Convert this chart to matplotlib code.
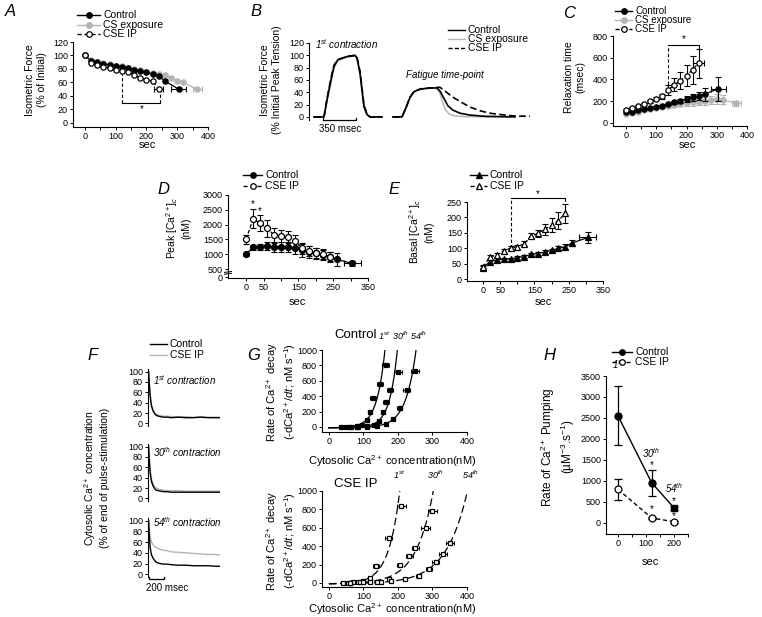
import numpy as np
import matplotlib
matplotlib.use('Agg')
import matplotlib.pyplot as plt
from matplotlib.lines import Line2D

plt.rcParams['font.family'] = ['Liberation Sans', 'DejaVu Sans']
plt.rcParams['mathtext.fontset'] = 'custom'
plt.rcParams['mathtext.rm'] = 'Liberation Sans'
plt.rcParams['mathtext.it'] = 'Liberation Sans:italic'

W, H = 762, 617
GREY = '#b4b4b4'

# ---- A : isometric force (% of initial) vs sec
a_x_ctrl = [0, 20, 40, 60, 80, 100, 120, 140, 160, 180, 200, 220, 240, 260, 305]
a_y_ctrl = [100, 92, 90, 88, 86, 84, 83, 81, 79, 77, 75, 72, 70, 62, 50]
a_xe_ctrl = [0, 0, 0, 0, 0, 0, 0, 0, 0, 0, 0, 0, 0, 0, 25]
a_x_cs = [0, 20, 40, 60, 80, 100, 120, 140, 160, 180, 200, 220, 240, 260, 280, 300, 320, 365]
a_y_cs = [100, 93, 91, 89, 87, 85, 84, 82, 80, 78, 76, 74, 73, 71, 67, 62, 60, 50]
a_xe_cs = [0, 0, 0, 0, 0, 0, 0, 0, 0, 0, 0, 0, 0, 0, 0, 0, 0, 15]
a_x_cse = [0, 20, 40, 60, 80, 100, 120, 140, 160, 180, 200, 220, 240]
a_y_cse = [100, 89, 86, 83, 81, 79, 77, 75, 71, 67, 64, 62, 50]
a_xe_cse = [0, 0, 0, 0, 0, 0, 0, 0, 0, 0, 0, 0, 14]

# ---- B : force traces (ms, % initial peak)
b_t1 = [53, 159, 191, 233, 265, 307, 403, 488, 509, 541, 562, 583, 615, 647, 774]
b_ctrl1 = [0, 0, 28, 60, 82, 93, 98, 100, 96, 71, 44, 17, 4, 0, 0]
b_cs1 = [0, 0, 25, 55, 80, 92, 97, 99, 95, 68, 40, 15, 3, 0, 0]
b_cse1 = [0, 0, 30, 63, 84, 93, 98, 100, 97, 74, 47, 19, 5, 0, 0]
b_t2_ctrl = [890, 986, 1028, 1071, 1113, 1177, 1283, 1357, 1389, 1431, 1473, 1526, 1601, 1707, 1866, 2025, 2184]
b_ctrl2 = [0, 0, 15, 32, 41, 45, 47, 47, 42, 30, 18, 11, 6, 3, 1, 0.5, 0]
b_t2_cs = [890, 986, 1028, 1071, 1113, 1177, 1283, 1357, 1389, 1420, 1452, 1494, 1547, 1654, 1919, 2130]
b_cs2 = [0, 0, 14, 31, 41, 46, 47, 46, 38, 22, 10, 4, 1.5, 0.5, 0, 0]
b_t2_cse = [890, 986, 1028, 1071, 1113, 1177, 1283, 1357, 1389, 1442, 1516, 1601, 1707, 1813, 1919, 2078, 2184, 2343]
b_cse2 = [0, 0, 15, 32, 41, 45, 47, 48, 48, 42, 33, 25, 16, 10, 6, 3, 1.5, 1]

# ---- C : relaxation time (msec)
c_x_cse = [0, 20, 40, 60, 80, 100, 120, 140, 160, 180, 200, 220, 240]
c_y_cse = [120, 138, 155, 175, 200, 222, 245, 305, 350, 390, 435, 490, 550]
c_ye_cse = [10, 10, 10, 10, 12, 15, 20, 45, 60, 75, 95, 130, 135]
c_xe_cse = [0, 0, 0, 0, 0, 0, 0, 0, 0, 0, 0, 0, 18]
c_x_ctrl = [0, 20, 40, 60, 80, 100, 120, 140, 160, 180, 200, 220, 240, 260, 305]
c_y_ctrl = [100, 105, 115, 125, 135, 150, 160, 175, 190, 205, 220, 235, 248, 265, 315]
c_ye_ctrl = [0, 0, 0, 0, 0, 0, 0, 10, 15, 20, 25, 30, 35, 60, 110]
c_xe_ctrl = [0, 0, 0, 0, 0, 0, 0, 0, 0, 0, 0, 0, 0, 0, 25]
c_x_cs = [0, 20, 40, 60, 80, 100, 120, 140, 160, 180, 200, 220, 240, 260, 280, 300, 320, 365]
c_y_cs = [85, 95, 105, 115, 125, 135, 145, 155, 165, 172, 180, 190, 195, 200, 210, 220, 215, 180]
c_ye_cs = [0, 0, 0, 0, 0, 0, 10, 15, 20, 20, 25, 30, 30, 35, 40, 45, 40, 20]
c_xe_cs = [0, 0, 0, 0, 0, 0, 0, 0, 0, 0, 0, 0, 0, 0, 0, 0, 0, 15]

# ---- D : peak [Ca2+]c (nM)
d_x_cse = [0, 20, 40, 60, 80, 100, 120, 140, 160, 180, 200, 220, 240]
d_y_cse = [1500, 2200, 2050, 1880, 1650, 1620, 1580, 1450, 1200, 1120, 1050, 1000, 920]
d_ye_cse = [150, 330, 280, 280, 250, 200, 200, 200, 180, 170, 160, 150, 150]
d_x_ctrl = [0, 20, 40, 60, 80, 100, 120, 140, 160, 180, 200, 220, 240, 260, 305]
d_y_ctrl = [1000, 1230, 1260, 1280, 1240, 1240, 1250, 1200, 1130, 1080, 1030, 990, 920, 830, 690]
d_ye_ctrl = [60, 80, 100, 120, 150, 170, 180, 200, 210, 200, 190, 180, 170, 230, 80]
d_xe_ctrl = [0, 0, 0, 0, 0, 0, 0, 0, 0, 0, 0, 0, 0, 0, 25]

# ---- E : basal [Ca2+]c (nM)
e_x_cse = [0, 20, 40, 60, 80, 100, 120, 140, 160, 180, 200, 220, 240]
e_y_cse = [40, 72, 78, 92, 100, 105, 115, 140, 148, 162, 175, 190, 213]
e_ye_cse = [5, 6, 6, 6, 6, 6, 8, 8, 12, 18, 22, 28, 30]
e_x_ctrl = [0, 20, 40, 60, 80, 100, 120, 140, 160, 180, 200, 220, 240, 260, 305]
e_y_ctrl = [37, 57, 62, 65, 65, 70, 73, 80, 83, 88, 93, 100, 105, 117, 135]
e_ye_ctrl = [5, 5, 5, 5, 5, 5, 5, 5, 5, 5, 6, 6, 8, 10, 18]
e_xe_ctrl = [0, 0, 0, 0, 0, 0, 0, 0, 0, 0, 0, 0, 0, 0, 25]

# ---- F : cytosolic Ca2+ decay traces (ms, % of end of pulse)
f_t = [0, 10, 20, 30, 40, 60, 80, 100, 130, 160, 200, 250, 300, 400, 500, 600, 700, 800, 900, 950]
f_ctrl_1 = [100, 75, 55, 42, 33, 24, 19, 16, 14, 13, 12, 12, 11, 12, 11, 11, 12, 11, 11, 11]
f_cse_1 = [100, 78, 58, 45, 36, 27, 21, 18, 16, 15, 14, 14, 13, 13, 13, 12, 13, 12, 12, 12]
f_ctrl_30 = [100, 72, 52, 40, 32, 24, 19, 16, 15, 14, 13, 13, 12, 12, 12, 12, 12, 12, 12, 12]
f_cse_30 = [100, 76, 57, 45, 37, 28, 23, 20, 18, 17, 16, 15, 15, 15, 14, 14, 14, 14, 14, 14]
f_ctrl_54 = [100, 70, 52, 42, 36, 30, 26, 23, 21, 20, 19, 19, 18, 17, 17, 16, 16, 16, 15, 15]
f_cse_54 = [100, 85, 72, 65, 60, 55, 52, 50, 48, 46, 45, 44, 42, 41, 40, 39, 38, 37, 37, 36]

# ---- G : rate of Ca2+ decay vs cytosolic Ca2+ (nM)
g_keys = ['1st', '30th', '54th']
g_ctrl_x = {'1st': [35, 50, 65, 80, 95, 110, 120, 128, 148, 165],
            '30th': [60, 85, 110, 130, 145, 157, 165, 177, 200],
            '54th': [80, 110, 140, 165, 185, 205, 226, 250]}
g_ctrl_y = {'1st': [0, 3, 5, 10, 30, 90, 200, 380, 560, 800],
            '30th': [0, 5, 10, 25, 80, 195, 325, 480, 720],
            '54th': [0, 5, 15, 35, 100, 250, 480, 730]}
g_ctrl_xe = {'1st': [0, 0, 0, 3, 4, 5, 6, 8, 10, 10],
             '30th': [0, 0, 3, 4, 5, 6, 8, 10, 12],
             '54th': [0, 0, 3, 4, 6, 8, 10, 12]}
g_cse_x = {'1st': [40, 55, 70, 85, 100, 118, 136, 173, 210],
           '30th': [60, 90, 120, 150, 175, 205, 233, 250, 280, 300],
           '54th': [60, 100, 140, 180, 220, 260, 290, 310, 330, 350]}
g_cse_y = {'1st': [0, 0, 5, 10, 20, 50, 180, 490, 840],
           '30th': [0, 5, 5, 15, 40, 200, 290, 380, 600, 780],
           '54th': [0, 5, 10, 20, 40, 80, 150, 230, 320, 430]}
g_cse_xe = {'1st': [0, 0, 0, 3, 4, 5, 8, 10, 12],
            '30th': [0, 0, 0, 3, 5, 8, 10, 10, 12, 12],
            '54th': [0, 0, 3, 4, 5, 8, 10, 10, 12, 12]}

# ---- H : rate of Ca2+ pumping
h_x = [0, 120, 200]
h_ctrl = [2550, 960, 360]
h_ctrl_e = [700, 310, 40]
h_cse = [800, 120, 30]
h_cse_e = [250, 30, 20]

fig = plt.figure(figsize=(W / 100, H / 100), dpi=100)


def box(x0, y0, x1, y1):
    return [x0 / W, 1 - y1 / H, (x1 - x0) / W, (y1 - y0) / H]


def ftext(x, y, s, **kw):
    kw.setdefault('fontsize', 7.5)
    fig.text(x / W, 1 - y / H, s, **kw)


def tidy(ax, left_only=False):
    for s in ['top', 'right']:
        ax.spines[s].set_visible(False)
    if left_only:
        ax.spines['bottom'].set_visible(False)
        ax.set_xticks([])
    for s in ['left', 'bottom']:
        ax.spines[s].set_linewidth(0.8)
    ax.tick_params(which='both', direction='out', length=2.5, width=0.7, labelsize=6.5, pad=1.2)
    ax.patch.set_alpha(0)


def legend_row(x0, x1, y, label, color, ls, marker=None, mfc='k', ms=4, fs=7.5):
    yy = 1 - y / H
    fig.add_artist(Line2D([x0 / W, x1 / W], [yy, yy], color=color, ls=ls, lw=1.0,
                          transform=fig.transFigure))
    if marker:
        fig.add_artist(Line2D([(x0 + x1) / 2 / W], [yy], marker=marker, ms=ms, mfc=mfc,
                              mec=color, mew=0.9, ls='none', transform=fig.transFigure))
    ftext(x1 + 3, y, label, va='center', ha='left', fontsize=fs)


def series(ax, x, y, color, mfc, ls, marker, yerr=None, xerr=None, ms=3.8, z=2, cap=2):
    x = np.asarray(x, float)
    y = np.asarray(y, float)
    ax.plot(x, y, color=color, ls=ls, lw=0.9, marker=marker, ms=ms, mfc=mfc, mec=color,
            mew=0.9, zorder=z + 0.5, clip_on=False)
    for err, key in ((yerr, 'yerr'), (xerr, 'xerr')):
        if err is None:
            continue
        err = np.asarray(err, float)
        m = err > 0
        if m.any():
            ax.errorbar(x[m], y[m], **{key: err[m]}, fmt='none', ecolor=color, elinewidth=0.8,
                        capsize=cap, capthick=0.8, zorder=z, clip_on=False)


def sec_ticks(ax, major, minor):
    ax.set_xticks(major)
    ax.set_xticks(minor, minor=True)


DASH = (0, (3, 2))

# ================= A
axA = fig.add_axes(box(73, 42, 208, 127))
tidy(axA)
axA.set_xlim(-39, 400)
axA.set_ylim(-6, 120)
series(axA, a_x_cs, a_y_cs, GREY, GREY, '-', 'o', xerr=a_xe_cs, z=2)
series(axA, a_x_ctrl, a_y_ctrl, 'k', 'k', '-', 'o', xerr=a_xe_ctrl, z=3)
series(axA, a_x_cse, a_y_cse, 'k', 'white', DASH, 'o', xerr=a_xe_cse, z=4)
sec_ticks(axA, [0, 100, 200, 300, 400], [50, 150, 250, 350])
axA.set_yticks(range(0, 121, 20))
axA.plot([120, 120], [76, 30], 'k', ls=(0, (3, 2)), lw=0.8)
axA.plot([120, 245], [30, 30], 'k-', lw=0.8)
axA.plot([245, 245], [30, 47], 'k', ls=(0, (3, 2)), lw=0.8)
axA.text(183, 20, '*', ha='center', va='center', fontsize=7)
ftext(147, 145, 'sec', ha='center', va='center', fontsize=8)
ftext(36, 80, 'Isometric Force\n(% of Initial)', rotation=90, ha='center', va='center',
      multialignment='center', linespacing=1.15)
legend_row(77, 100, 15, 'Control', 'k', '-', 'o', 'k')
legend_row(77, 100, 25, 'CS exposure', GREY, '-', 'o', GREY)
legend_row(77, 100, 34, 'CSE IP', 'k', DASH, 'o', 'white')
ftext(5, 12, 'A', fontsize=12, style='italic', va='center')

# ================= B
axB = fig.add_axes(box(309, 43, 530, 120))
tidy(axB, left_only=True)
axB.set_xlim(0, 2343)
axB.set_ylim(-5, 120)
axB.set_yticks(range(0, 121, 20))
axB.plot(b_t1, b_cs1, color=GREY, lw=1.1)
axB.plot(b_t1, b_ctrl1, color='k', lw=1.2)
axB.plot(b_t1, b_cse1, color='k', lw=1.2, ls=(0, (4, 2)))
axB.plot(b_t2_cs, b_cs2, color=GREY, lw=1.1)
axB.plot(b_t2_ctrl, b_ctrl2, color='k', lw=1.2)
axB.plot(b_t2_cse, b_cse2, color='k', lw=1.2, ls=(0, (4, 2)))
axB.plot([148, 148, 498, 498], [-2, -5, -5, -2], 'k-', lw=0.9, clip_on=False)
ftext(340, 129, '350 msec', ha='center', va='center', fontsize=7)
ftext(347, 44, '1$^{st}$ contraction', ha='center', va='center', fontsize=7, style='italic')
ftext(445, 75, 'Fatigue time-point', ha='center', va='center', fontsize=7, style='italic')
ftext(271, 80, 'Isometric Force\n(% Initial Peak Tension)', rotation=90, ha='center',
      va='center', multialignment='center', linespacing=1.15)
legend_row(448, 465, 30, 'Control', 'k', '-')
legend_row(448, 465, 39, 'CS exposure', GREY, '-')
legend_row(448, 465, 48, 'CSE IP', 'k', (0, (3, 1.5)))
ftext(250, 12, 'B', fontsize=12, style='italic', va='center')

# ================= C
axC = fig.add_axes(box(613, 36, 747, 126))
tidy(axC)
axC.set_xlim(-43, 400)
axC.set_ylim(-28, 800)
series(axC, c_x_cs, c_y_cs, GREY, GREY, '-', 'o', yerr=c_ye_cs, xerr=c_xe_cs, z=2)
series(axC, c_x_ctrl, c_y_ctrl, 'k', 'k', '-', 'o', yerr=c_ye_ctrl, xerr=c_xe_ctrl, z=3)
series(axC, c_x_cse, c_y_cse, 'k', 'white', DASH, 'o', yerr=c_ye_cse, xerr=c_xe_cse, z=4)
sec_ticks(axC, [0, 100, 200, 300, 400], [50, 150, 250, 350])
axC.set_yticks(range(0, 801, 200))
axC.plot([140, 140], [300, 720], 'k', ls=(0, (3, 2)), lw=0.8, clip_on=False)
axC.plot([140, 240, 240], [720, 720, 690], 'k-', lw=0.8, clip_on=False)
axC.text(190, 770, '*', ha='center', va='center', fontsize=7)
ftext(687, 145, 'sec', ha='center', va='center', fontsize=8)
ftext(575, 77, 'Relaxation time\n(msec)', rotation=90, ha='center', va='center',
      multialignment='center', linespacing=1.15)
legend_row(615, 632, 11, 'Control', 'k', '-', 'o', 'k', fs=7)
legend_row(615, 632, 20, 'CS exposure', GREY, '-', 'o', GREY, fs=7)
legend_row(615, 632, 29, 'CSE IP', 'k', DASH, 'o', 'white', fs=7)
ftext(563, 14, 'C', fontsize=12, style='italic', va='center')

# ================= D
axD = fig.add_axes(box(228, 195, 368, 278))
tidy(axD)
axD.set_xlim(-52, 350)
axD.set_ylim(200, 3000)
series(axD, d_x_ctrl, d_y_ctrl, 'k', 'k', '-', 'o', yerr=d_ye_ctrl, xerr=d_xe_ctrl, ms=4.3, z=3)
series(axD, d_x_cse, d_y_cse, 'k', 'white', DASH, 'o', yerr=d_ye_cse, ms=4.3, z=4)
sec_ticks(axD, [0, 50, 150, 250, 350], [100, 200, 300])
axD.set_yticks([225, 500, 1000, 1500, 2000, 2500, 3000])
axD.set_yticklabels(['0', '500', '1000', '1500', '2000', '2500', '3000'])
for yb in (330, 390):
    axD.plot([-62, -42], [yb, yb + 30], 'k-', lw=0.7, clip_on=False)
axD.text(20, 2700, '*', ha='center', va='center', fontsize=7)
axD.text(40, 2450, '*', ha='center', va='center', fontsize=7)
ftext(297, 302, 'sec', ha='center', va='center', fontsize=8)
ftext(178, 228, 'Peak [Ca$^{2+}$]$_{c}$\n(nM)', rotation=90, ha='center', va='center',
      multialignment='center', linespacing=1.15)
legend_row(243, 262, 175, 'Control', 'k', '-', 'o', 'k')
legend_row(243, 262, 186, 'CSE IP', 'k', DASH, 'o', 'white')
ftext(157, 190, 'D', fontsize=12, style='italic', va='center')

# ================= E
axE = fig.add_axes(box(467, 202, 603, 281))
tidy(axE)
axE.set_xlim(-47, 350)
axE.set_ylim(-6, 250)
series(axE, e_x_ctrl, e_y_ctrl, 'k', 'k', '-', '^', yerr=e_ye_ctrl, xerr=e_xe_ctrl, ms=4.3, z=3)
series(axE, e_x_cse, e_y_cse, 'k', 'white', DASH, '^', yerr=e_ye_cse, ms=4.3, z=4)
sec_ticks(axE, [0, 50, 150, 250, 350], [100, 200, 300])
axE.set_yticks(range(0, 251, 50))
axE.plot([80, 80], [100, 262], 'k', ls=(0, (3, 2)), lw=0.8, clip_on=False)
axE.plot([80, 240], [262, 262], 'k-', lw=0.8, clip_on=False)
axE.plot([240, 240], [262, 245], 'k', ls=(0, (3, 2)), lw=0.8, clip_on=False)
axE.text(160, 277, '*', ha='center', va='center', fontsize=7)
ftext(543, 302, 'sec', ha='center', va='center', fontsize=8)
ftext(421, 232, 'Basal [Ca$^{2+}$]$_{c}$\n(nM)', rotation=90, ha='center', va='center',
      multialignment='center', linespacing=1.15)
legend_row(470, 487, 175, 'Control', 'k', '-', '^', 'k')
legend_row(470, 487, 186, 'CSE IP', 'k', DASH, '^', 'white')
ftext(388, 190, 'E', fontsize=12, style='italic', va='center')

# ================= F
f_boxes = [(369, 426), (444, 501), (518, 577)]
f_sets = [(f_ctrl_1, f_cse_1, '1$^{st}$ contraction', 380),
          (f_ctrl_30, f_cse_30, '30$^{th}$ contraction', 452),
          (f_ctrl_54, f_cse_54, '54$^{th}$ contraction', 522)]
for (top, bot), (yc, ycse, lab, ly) in zip(f_boxes, f_sets):
    ax = fig.add_axes(box(148, top, 222, bot))
    tidy(ax, left_only=True)
    ax.set_xlim(-8, 985)
    ax.set_ylim(-5, 105)
    ax.set_yticks(range(0, 101, 20))
    ax.plot(f_t, ycse, color=GREY, lw=1.0)
    ax.plot(f_t, yc, color='k', lw=1.0)
    ftext(153, ly, lab, ha='left', va='center', fontsize=7, style='italic')
    fax = ax
fax.plot([0, 0, 200, 200], [-5, -9, -9, -5], 'k-', lw=0.9, clip_on=False)
ftext(146, 588, '200 msec', ha='left', va='center', fontsize=7)
ftext(96, 478, 'Cytosolic Ca$^{2+}$ concentration\n(% of end of pulse-stimulation)',
      rotation=90, ha='center', va='center', multialignment='center', linespacing=1.15)
legend_row(150, 167, 344, 'Control', 'k', '-')
legend_row(150, 167, 355, 'CSE IP', GREY, '-')
ftext(87, 355, 'F', fontsize=12, style='italic', va='center')


# ================= G
def fit_curve(x, y):
    x = np.asarray(x, float)
    y = np.asarray(y, float)
    m = y >= 20
    b, a = np.polyfit(x[m], np.log(y[m] + 10), 1)
    xs = np.linspace(0, 400, 600)
    ys = np.exp(a + b * xs) - 10
    top = (np.log(1010) - a) / b
    return xs, ys, top


g_label_shift = {'1st': -3, '30th': 8, '54th': 8}
g_panels = [(350, 432, -65, 'Control', g_ctrl_x, g_ctrl_y, g_ctrl_xe, 'k', '-', 335, 461, 392),
            (491, 587, -44, 'CSE IP', g_cse_x, g_cse_y, g_cse_xe, 'white', (0, (6, 3)), 484, 609, 541)]
for (top, bot, ymin, title, gx, gy, gxe, mfc, ls, ty, xly, yly) in g_panels:
    ax = fig.add_axes(box(322, top, 467, bot))
    tidy(ax)
    ax.set_xlim(-20, 400)
    ax.set_ylim(ymin, 1000)
    ax.set_xticks([0, 100, 200, 300, 400])
    ax.set_yticks(range(0, 1001, 200))
    for key in g_keys:
        xs, ys, xtop = fit_curve(gx[key], gy[key])
        ax.plot(xs, ys, color='k', lw=0.9, ls=ls, zorder=2)
        series(ax, gx[key], gy[key], 'k', mfc, 'none', 's', xerr=gxe[key], ms=3.3, z=3, cap=1.5)
        ax.text(xtop + g_label_shift[key], 1110, key[:-2] + '$^{' + key[-2:] + '}$', ha='center',
                va='bottom', fontsize=6.5, style='italic', clip_on=False)
    ftext(356, ty, title, ha='center', va='center', fontsize=9.5)
    ftext(392, xly, 'Cytosolic Ca$^{2+}$ concentration(nM)', ha='center', va='center', fontsize=8)
    ftext(281, yly, 'Rate of Ca$^{2+}$ decay\n(-dCa$^{2+}$/$dt$; nM s$^{-1}$)', rotation=90,
          ha='center', va='center', multialignment='center', linespacing=1.15, fontsize=8)
ftext(247, 355, 'G', fontsize=12, style='italic', va='center')

# ================= H
axH = fig.add_axes(box(606, 376, 688, 534))
tidy(axH)
axH.set_xlim(-43, 250)
axH.set_ylim(-262, 3500)
axH.set_yticks(range(0, 3501, 500))
sec_ticks(axH, [0, 100, 200], [50, 150, 250])
axH.errorbar(h_x, h_ctrl, yerr=h_ctrl_e, fmt='none', ecolor='k', elinewidth=0.9, capsize=3, capthick=0.9)
axH.errorbar(h_x, h_cse, yerr=h_cse_e, fmt='none', ecolor='k', elinewidth=0.9, capsize=3, capthick=0.9)
axH.plot(h_x, h_ctrl, 'k-', lw=1.0)
axH.plot(h_x[:2], h_ctrl[:2], 'o', color='k', ms=5, zorder=4)
axH.plot(h_x[2:], h_ctrl[2:], 's', color='k', ms=5, zorder=4)
axH.plot(h_x, h_cse, 'k', ls=DASH, lw=1.0, marker='o', ms=5, mfc='white', mec='k', mew=0.9, zorder=4)
for sx, sy in [(120, 1390), (200, 530), (120, 330), (200, 170)]:
    axH.text(sx, sy, '*', ha='center', va='center', fontsize=7)
axH.text(120, 1660, '30$^{th}$', ha='center', va='center', fontsize=7, style='italic')
axH.text(200, 840, '54$^{th}$', ha='center', va='center', fontsize=7, style='italic')
axH.text(0, 3780, '1$^{st}$', ha='center', va='center', fontsize=7, style='italic', clip_on=False)
ftext(650, 562, 'sec', ha='center', va='center', fontsize=8)
ftext(558, 447, 'Rate of Ca$^{2+}$ Pumping\n(µM$^{-3}$.s$^{-1}$)', rotation=90, ha='center',
      va='center', multialignment='center', linespacing=1.15, fontsize=8.5)
legend_row(612, 632, 352, 'Control', 'k', '-', 'o', 'k')
legend_row(612, 632, 362, 'CSE IP', 'k', DASH, 'o', 'white')
ftext(543, 355, 'H', fontsize=12, style='italic', va='center')

fig.savefig('out.png', dpi=100)
